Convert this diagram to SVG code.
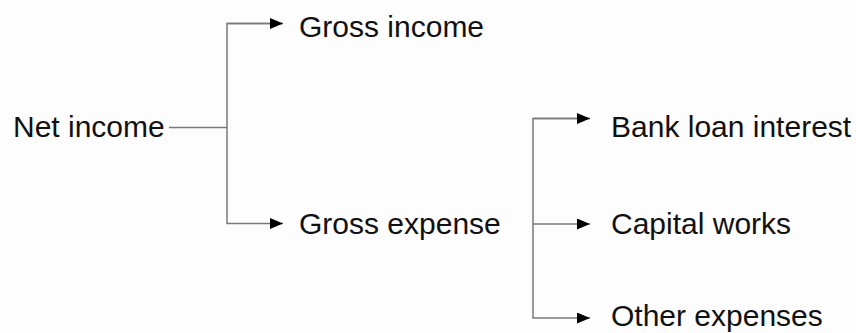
<svg xmlns="http://www.w3.org/2000/svg" width="856" height="333" viewBox="0 0 856 333">
<style>
text{font-family:"Liberation Sans",Arial,sans-serif;font-size:30px;fill:#111}
.c{fill:none;stroke:#7a7a7a;stroke-width:1.5}
</style>
<defs>
<marker id="ah" markerUnits="userSpaceOnUse" markerWidth="14" markerHeight="12" refX="13" refY="5.5" orient="auto">
<path d="M0,0 L13,5.5 L0,11 Z" fill="#000"/>
</marker>
</defs>
<rect width="856" height="333" fill="#fdfdfd"/>
<g id="connectors">
<path class="c" d="M169,127.5 H227"/>
<path class="c" d="M283,23.5 H227 V223.5 H283" marker-end="url(#ah)"/>
<path class="c" d="M227,23.5 H283" marker-end="url(#ah)"/>
<path class="c" d="M590,118.5 H533 V318 H590" marker-end="url(#ah)"/>
<path class="c" d="M533,118.5 H590" marker-end="url(#ah)"/>
<path class="c" d="M533,224 H590" marker-end="url(#ah)"/>
</g>
<g id="net-income"><text x="13" y="137">Net income</text></g>
<g id="gross-income"><text x="299" y="37">Gross income</text></g>
<g id="gross-expense"><text x="299" y="234">Gross expense</text></g>
<g id="bank-loan-interest"><text x="611" y="137">Bank loan interest</text></g>
<g id="capital-works"><text x="611" y="234">Capital works</text></g>
<g id="other-expenses"><text x="611" y="325.5">Other expenses</text></g>
</svg>
